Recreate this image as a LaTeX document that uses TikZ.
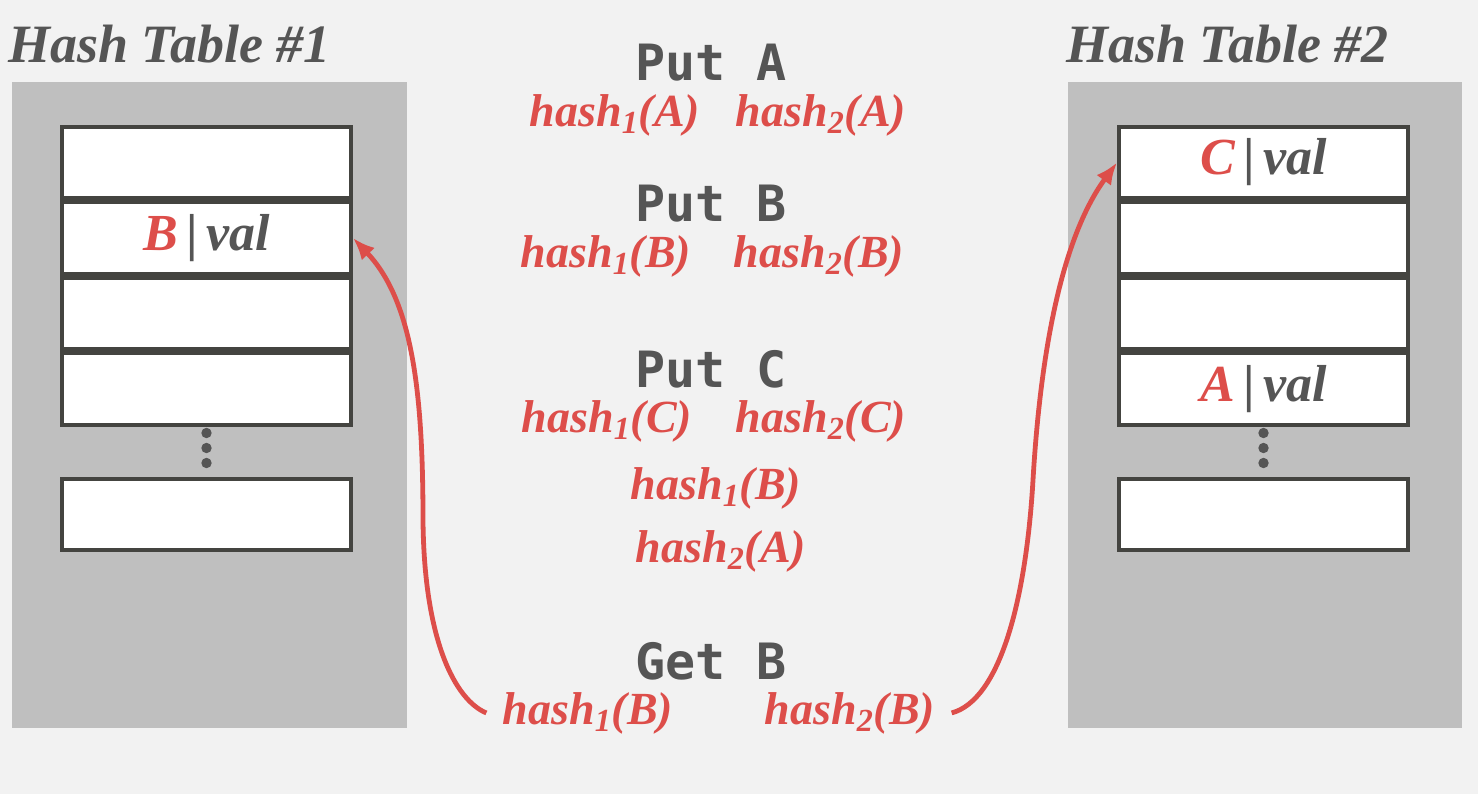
\documentclass[tikz,border=0pt]{standalone}
\usepackage{fontspec}
\setmainfont{Liberation Serif}
\newfontfamily\cmdfont{DejaVu Sans Mono}
\usepackage{tikz}
\usetikzlibrary{positioning, arrows.meta}
\definecolor{hashred}{RGB}{221, 78, 74}
\definecolor{textgray}{RGB}{85, 85, 85}
\definecolor{panelgray}{RGB}{191, 191, 191}
\definecolor{bggray}{RGB}{242, 242, 242}
\definecolor{slotborder}{RGB}{68, 68, 64}
\newcommand{\hashfn}[2]{hash\textsubscript{#1}(#2)}
\newcommand{\entry}[1]{{\color{hashred}#1}\,{\upshape\bfseries|}\,val}

\begin{document}
\begin{tikzpicture}[
        x=0.5pt, y=-0.5pt,
        node distance=0pt,
        slot/.style={rectangle, draw=slotborder, line width=2pt, fill=white,
            minimum width=144.5pt, minimum height=35.75pt, inner sep=0pt,
            font=\fontsize{26}{30}\selectfont\bfseries\itshape, text=textgray},
        title/.style={font=\fontsize{27}{32}\selectfont\bfseries\itshape,
            text=textgray, anchor=base west, inner sep=0pt},
        cmd/.style={font=\fontsize{25}{30}\selectfont\cmdfont\bfseries,
            text=textgray, anchor=base, inner sep=0pt},
        hashlbl/.style={font=\fontsize{23}{28}\selectfont\bfseries\itshape,
            text=hashred, anchor=base, inner sep=0pt},
        lookup/.style={-{Latex[length=11pt, width=9pt]}, line width=2.4pt, draw=hashred}
        ]
        % background and panels
        \fill[bggray] (0,0) rectangle (1478,794);
        \fill[panelgray] (12,82) rectangle (407,728);
        \fill[panelgray] (1068,82) rectangle (1462,728);

        \node[title] (ttlone) at (8,62) {Hash Table \#1};
        \node[title] (ttltwo) at (1066,62) {Hash Table \#2};

        % table 1
        \node[slot] (l1) at (206.5,162.5) {};
        \node[slot, below=of l1] (l2) {\entry{B}};
        \node[slot, below=of l2] (l3) {};
        \node[slot, below=of l3] (l4) {};
        \node[slot] (l5) at (206.5,514.5) {};
        \foreach \y in {433,448,463}
            \fill[textgray] (206.5,\y) circle (2.6pt);

        % table 2
        \node[slot] (r1) at (1263.5,162.5) {\entry{C}};
        \node[slot, below=of r1] (r2) {};
        \node[slot, below=of r2] (r3) {};
        \node[slot, below=of r3] (r4) {\entry{A}};
        \node[slot] (r5) at (1263.5,514.5) {};
        \foreach \y in {433,448,463}
            \fill[textgray] (1263.5,\y) circle (2.6pt);

        % operations
        \node[cmd] (puta) at (711,80) {Put A};
        \node[hashlbl] (putaone) at (615,126) {\hashfn{1}{A}};
        \node[hashlbl] (putatwo) at (821,126) {\hashfn{2}{A}};

        \node[cmd] (putb) at (711,221) {Put B};
        \node[hashlbl] (putbone) at (606,267) {\hashfn{1}{B}};
        \node[hashlbl] (putbtwo) at (819,267) {\hashfn{2}{B}};

        \node[cmd] (putc) at (711,387) {Put C};
        \node[hashlbl] (putcone) at (607,432) {\hashfn{1}{C}};
        \node[hashlbl] (putctwo) at (821,432) {\hashfn{2}{C}};
        \node[hashlbl] (kickb) at (716,499) {\hashfn{1}{B}};
        \node[hashlbl] (kicka) at (721,562) {\hashfn{2}{A}};

        \node[cmd] (getb) at (711,679) {Get B};
        \node[hashlbl] (getone) at (588,724) {\hashfn{1}{B}};
        \node[hashlbl] (gettwo) at (850,724) {\hashfn{2}{B}};

        \draw[lookup] ([xshift=-8pt]getone.west) .. controls (455,700) and (424,640) .. (423,520)
            .. controls (423,390) and (412,300) .. (l2.east);
        \draw[lookup] ([xshift=8pt]gettwo.east) .. controls (1000,700) and (1026,600) .. (1033,480)
            .. controls (1040,360) and (1060,240) .. (r1.west);
    \end{tikzpicture}
\end{document}
